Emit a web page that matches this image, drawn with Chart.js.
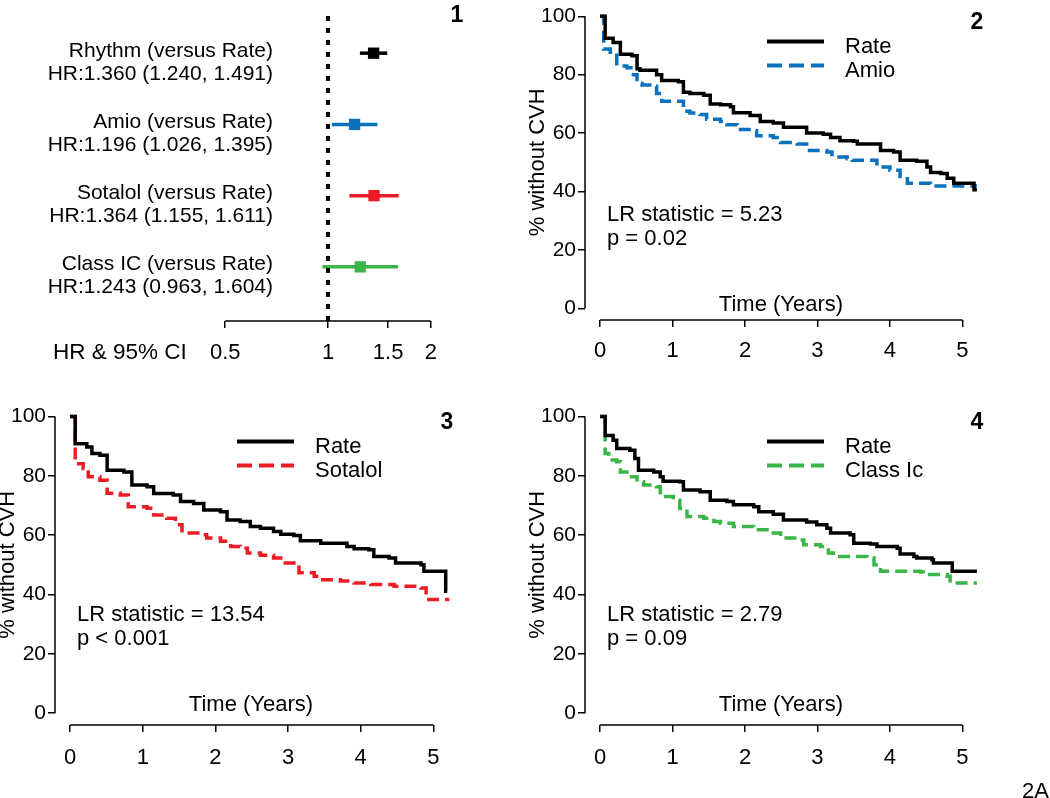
<!DOCTYPE html>
<html>
<head>
<meta charset="utf-8">
<script src="https://cdn.jsdelivr.net/npm/chart.js@4/dist/chart.umd.min.js"></script>
<style>
  html, body { margin: 0; padding: 0; background: #fff; }
  body { position: relative; width: 1050px; height: 798px; overflow: hidden; }
  canvas { position: absolute; }
</style>
</head>
<body>
<canvas id="p1" width="520" height="390" style="left:0;top:0"></canvas>
<canvas id="p2" width="530" height="390" style="left:520px;top:-10px"></canvas>
<canvas id="p3" width="520" height="408" style="left:0;top:390px"></canvas>
<canvas id="p4" width="530" height="408" style="left:520px;top:390px"></canvas>
<script>
// panel 1 - hazard ratios
const forestLabels = ['Rhythm (versus Rate)', 'Amio (versus Rate)', 'Sotalol (versus Rate)', 'Class IC (versus Rate)']
const forestHR = [1.360, 1.196, 1.364, 1.243]
const forestLow = [1.240, 1.026, 1.155, 0.963]
const forestHigh = [1.491, 1.395, 1.611, 1.604]
const forestRow = [4, 3, 2, 1]
const forestColors = ['#000000', '#0a72bd', '#ed1c24', '#3ab54a']
const forestTicks = [0.5, 1, 1.5, 2]

// KM curves, time in years / % without CVH
const timeTicks = [0, 1, 2, 3, 4, 5]
const pctTicks = [0, 20, 40, 60, 80, 100]

const rateTime2 = [0, 0.07, 0.18, 0.28, 0.44, 0.51, 0.55, 0.78, 0.85, 1.08, 1.15, 1.24, 1.43, 1.52, 1.66, 1.80, 1.84, 2.07, 2.21, 2.39, 2.53, 2.85, 3.08, 3.18, 3.31, 3.50, 3.55, 3.87, 4.05, 4.14, 4.37, 4.51, 4.56, 4.70, 4.79, 4.88, 5.16, 5.20]
const rateSurv2 = [100, 92.5, 91, 87, 86.5, 82, 81.5, 80, 78, 77.6, 74, 73.6, 73, 70, 69.7, 69, 67, 66, 64, 63.5, 62, 60, 59.6, 58.5, 57.4, 57.2, 56.3, 54, 53.5, 50.7, 50.4, 48.4, 46.5, 46.2, 44.5, 42.8, 40.6, 40.6]
const amioTime = [0, 0.05, 0.14, 0.23, 0.37, 0.46, 0.51, 0.58, 0.74, 0.78, 0.85, 1.15, 1.24, 1.38, 1.47, 1.66, 1.75, 1.89, 2.12, 2.16, 2.39, 2.49, 2.72, 2.85, 3.13, 3.20, 3.41, 3.48, 3.82, 4.00, 4.14, 4.24, 4.56, 5.20]
const amioSurv = [100, 88.8, 87.7, 83, 82.4, 80, 77, 76.5, 76, 73.6, 70.9, 67.5, 66.9, 66.4, 64.7, 64, 62.9, 61.2, 60.8, 59.1, 58.5, 56.8, 56.3, 54, 53.5, 51.8, 51.2, 50.7, 48.4, 47.3, 45.1, 42.8, 41.9, 41.9]

const rateTime3 = [0, 0.07, 0.23, 0.30, 0.41, 0.51, 0.74, 0.85, 1.06, 1.15, 1.42, 1.52, 1.70, 1.84, 2.07, 2.16, 2.34, 2.48, 2.62, 2.80, 2.90, 3.08, 3.17, 3.45, 3.81, 3.91, 4.11, 4.18, 4.39, 4.48, 4.83, 4.87, 5.17, 5.19]
const rateSurv3 = [100, 90.8, 89.7, 87.5, 86.9, 81.9, 81.3, 76.9, 76.3, 74, 73.5, 71.3, 70.7, 68.5, 67.9, 65.1, 64.6, 62.9, 62.3, 61.2, 60.3, 59.9, 58.1, 57.3, 56.2, 55.4, 55.1, 52.8, 52.3, 50.6, 50, 47.8, 41.1, 41.1]
const sotalolTime = [0, 0.07, 0.18, 0.25, 0.41, 0.51, 0.69, 0.80, 1.06, 1.15, 1.33, 1.45, 1.54, 1.79, 1.88, 2.07, 2.21, 2.34, 2.44, 2.62, 2.80, 2.90, 3.08, 3.15, 3.36, 3.45, 3.72, 3.91, 4.14, 4.46, 4.83, 4.90, 5.22]
const sotalolSurv = [100, 84.1, 82.5, 79.7, 78.5, 74.1, 73.5, 69.6, 69.1, 66.8, 65.7, 63.5, 60.7, 60.1, 59, 57.9, 56.2, 55.6, 54, 53.2, 52.3, 50.6, 50, 47.3, 46.1, 45, 44.5, 43.9, 43.4, 42.8, 42.2, 38.3, 38.3]

const rateTime4 = [0, 0.07, 0.18, 0.23, 0.41, 0.48, 0.53, 0.74, 0.83, 0.87, 1.10, 1.15, 1.38, 1.52, 1.75, 1.84, 2.12, 2.19, 2.39, 2.53, 2.85, 2.99, 3.13, 3.18, 3.45, 3.50, 3.73, 3.82, 4.10, 4.14, 4.33, 4.37, 4.58, 4.60, 4.86, 5.20]
const rateSurv4 = [100, 93.6, 92, 89.2, 88.6, 85.8, 81.9, 81.3, 79.7, 78.2, 78, 75.2, 74.6, 71.8, 71.3, 70.2, 69.6, 67.9, 67, 65.1, 64.4, 63.5, 62.3, 60.7, 60.1, 57.3, 57, 56.2, 55.6, 53.6, 52.8, 52.3, 51.7, 50.6, 47.8, 47.8]
const classIcTime = [0, 0.07, 0.12, 0.23, 0.28, 0.41, 0.51, 0.60, 0.78, 0.83, 1.01, 1.10, 1.20, 1.43, 1.57, 1.66, 1.84, 2.12, 2.39, 2.49, 2.72, 2.81, 3.04, 3.15, 3.22, 3.68, 3.78, 3.87, 4.42, 4.46, 4.79, 4.83, 5.20]
const classIcSurv = [100, 87.5, 85.3, 84.7, 81.3, 79.7, 78, 76.9, 76.3, 73, 71.8, 69, 66.3, 65.7, 64.6, 64, 62.9, 61.8, 60.7, 59, 58.4, 56.8, 56.2, 54, 52.8, 52.3, 50, 47.8, 47.6, 46.7, 46.1, 43.9, 43.9]

const FONT = "'Liberation Sans', Arial, Helvetica, sans-serif"
Chart.defaults.font.family = FONT
Chart.defaults.color = '#000'

const toPoints = (xs, ys) => xs.map((x, i) => ({ x: x, y: ys[i] }))

// ---------- panel 1 ----------
const forestPlugin = {
    id: 'forestNotes',
    afterDraw(chart) {
        const { ctx, chartArea: a, scales: { x, y } } = chart
        ctx.save()
        ctx.strokeStyle = '#000'
        ctx.lineWidth = 1.5
        ctx.beginPath()
        ctx.moveTo(x.getPixelForValue(forestTicks[0]), a.bottom)
        ctx.lineTo(x.getPixelForValue(forestTicks[forestTicks.length - 1]), a.bottom)
        ctx.stroke()
        ctx.fillStyle = '#000'
        ctx.font = '21px ' + FONT
        ctx.textAlign = 'right'
        ctx.textBaseline = 'alphabetic'
        forestLabels.forEach((lab, i) => {
            const py = y.getPixelForValue(forestRow[i])
            ctx.fillText(lab, 273, py + 3.5)
            ctx.fillText('HR:' + forestHR[i].toFixed(3) + ' (' + forestLow[i].toFixed(3) + ', ' + forestHigh[i].toFixed(3) + ')', 273, py + 26.5)
        })
        ctx.textAlign = 'left'
        ctx.font = '22.5px ' + FONT
        ctx.fillText('HR & 95% CI', 53, 359)
        ctx.font = 'bold 23px ' + FONT
        ctx.textAlign = 'center'
        ctx.fillText('1', 457, 22)
        ctx.restore()
    }
}

const forestSets = [{
    data: [{ x: 1, y: 0.24 }, { x: 1, y: 4.55 }],
    borderColor: '#000', borderWidth: 4, borderDash: [5, 7], pointRadius: 0
}]
forestLabels.forEach((lab, i) => {
    forestSets.push({
        data: [{ x: forestLow[i], y: forestRow[i] }, { x: forestHigh[i], y: forestRow[i] }],
        borderColor: forestColors[i], borderWidth: 3.5, pointRadius: 0
    })
})
forestSets.push({
    data: forestHR.map((v, i) => ({ x: v, y: forestRow[i] })),
    showLine: false, pointStyle: 'rect', pointRadius: 8,
    pointBackgroundColor: forestColors, pointBorderWidth: 0
})

new Chart(document.getElementById('p1'), {
    type: 'line',
    data: { datasets: forestSets },
    options: {
        responsive: false, animation: false,
        layout: { padding: { left: 217, right: 81, top: 14, bottom: 0 } },
        plugins: { legend: { display: false }, tooltip: { enabled: false } },
        scales: {
            x: {
                type: 'logarithmic', min: 0.473, max: 2.114,
                afterBuildTicks: s => { s.ticks = forestTicks.map(v => ({ value: v })) },
                afterFit: s => { s.height = 69 },
                border: { display: false },
                grid: { drawOnChartArea: false, drawTicks: true, tickLength: 7, color: '#000', lineWidth: 1.5 },
                ticks: { font: { size: 22 }, padding: 12, autoSkip: false, maxRotation: 0, callback: v => String(v) }
            },
            y: { type: 'linear', min: 0.24, max: 4.55, display: false }
        }
    },
    plugins: [forestPlugin]
})

// ---------- KM panels ----------
const kmPlugin = (num, stat, pval, series) => ({
    id: 'kmNotes',
    afterDraw(chart) {
        const { ctx, chartArea: a, scales: { x, y } } = chart
        ctx.save()
        ctx.strokeStyle = '#000'
        ctx.lineWidth = 1.5
        ctx.beginPath()
        ctx.moveTo(x.getPixelForValue(timeTicks[0]), a.bottom)
        ctx.lineTo(x.getPixelForValue(timeTicks[timeTicks.length - 1]), a.bottom)
        ctx.moveTo(a.left, y.getPixelForValue(pctTicks[0]))
        ctx.lineTo(a.left, y.getPixelForValue(pctTicks[pctTicks.length - 1]))
        ctx.stroke()
        // legend
        series.forEach((se, i) => {
            const ly = a.top + 37 + i * 24
            ctx.beginPath()
            ctx.strokeStyle = se.color
            ctx.lineWidth = 4
            ctx.setLineDash(se.dash.length ? [15, 7] : [])
            ctx.moveTo(a.left + 182, ly)
            ctx.lineTo(a.left + 239, ly)
            ctx.stroke()
            ctx.setLineDash([])
            ctx.fillStyle = '#000'
            ctx.font = '22px ' + FONT
            ctx.textAlign = 'left'
            ctx.textBaseline = 'alphabetic'
            ctx.fillText(se.label, a.left + 260, a.top + 48.5 + i * 23.5)
        })
        ctx.font = '22px ' + FONT
        ctx.textAlign = 'left'
        ctx.fillText('LR statistic = ' + stat, a.left + 22, a.top + 216.5)
        ctx.fillText(pval, a.left + 22, a.top + 240)
        ctx.textAlign = 'center'
        ctx.fillText('Time (Years)', a.left + 196, a.top + 306)
        ctx.font = 'bold 23px ' + FONT
        ctx.fillText(num, a.left + 392, a.top + 24)
        // y title
        ctx.font = '22px ' + FONT
        ctx.textBaseline = 'middle'
        ctx.translate(a.left - 47, (y.getPixelForValue(0) + y.getPixelForValue(100)) / 2)
        ctx.rotate(-Math.PI / 2)
        ctx.fillText('% without CVH', 0, 0)
        ctx.restore()
        if (num === '4') {
            ctx.save()
            ctx.fillStyle = '#000'
            ctx.font = '22px ' + FONT
            ctx.textAlign = 'left'
            ctx.fillText('2A', a.left + 437, a.top + 393)
            ctx.restore()
        }
    }
})

const kmChart = (id, num, stat, pval, series, box) => {
    new Chart(document.getElementById(id), {
        type: 'line',
        data: {
            datasets: series.map(se => ({
                label: se.label,
                data: toPoints(se.t, se.s),
                borderColor: se.color,
                borderWidth: 3.5,
                borderDash: se.dash,
                stepped: 'before',
                pointRadius: 0,
                fill: false
            }))
        },
        options: {
            responsive: false, animation: false,
            layout: { padding: { left: 0, right: box.right, top: box.top, bottom: 0 } },
            plugins: { legend: { display: false }, tooltip: { enabled: false } },
            scales: {
                x: {
                    type: 'linear', min: -0.208, max: 5.408,
                    afterBuildTicks: s => { s.ticks = timeTicks.map(v => ({ value: v })) },
                    afterFit: s => { s.height = box.bottom },
                    border: { display: false },
                    grid: { drawOnChartArea: false, drawTicks: true, tickLength: 7, color: '#000', lineWidth: 1.5 },
                    ticks: { font: { size: 22 }, padding: box.xpad, autoSkip: false, maxRotation: 0 }
                },
                y: {
                    type: 'linear', min: -4, max: 104,
                    afterBuildTicks: s => { s.ticks = pctTicks.map(v => ({ value: v })) },
                    afterFit: s => { s.width = box.left },
                    border: { display: false },
                    grid: { drawOnChartArea: false, drawTicks: true, tickLength: 7, color: '#000', lineWidth: 1.5 },
                    ticks: { font: { size: 21 }, padding: 2, autoSkip: false }
                }
            }
        },
        plugins: [kmPlugin(num, stat, pval, series)]
    })
}

kmChart('p2', '2', '5.23', 'p = 0.02', [
    { label: 'Rate', t: rateTime2, s: rateSurv2, color: '#000000', dash: [] },
    { label: 'Amio', t: amioTime, s: amioSurv, color: '#0a72bd', dash: [12, 6] }
], { left: 65, right: 58, top: 8, bottom: 60, xpad: 11 })

kmChart('p3', '3', '13.54', 'p < 0.001', [
    { label: 'Rate', t: rateTime3, s: rateSurv3, color: '#000000', dash: [] },
    { label: 'Sotalol', t: sotalolTime, s: sotalolSurv, color: '#ed1c24', dash: [12, 6] }
], { left: 55, right: 57, top: 12, bottom: 73, xpad: 13 })

kmChart('p4', '4', '2.79', 'p = 0.09', [
    { label: 'Rate', t: rateTime4, s: rateSurv4, color: '#000000', dash: [] },
    { label: 'Class Ic', t: classIcTime, s: classIcSurv, color: '#3ab54a', dash: [12, 6] }
], { left: 65, right: 58, top: 12, bottom: 73, xpad: 13 })
</script>
</body>
</html>
